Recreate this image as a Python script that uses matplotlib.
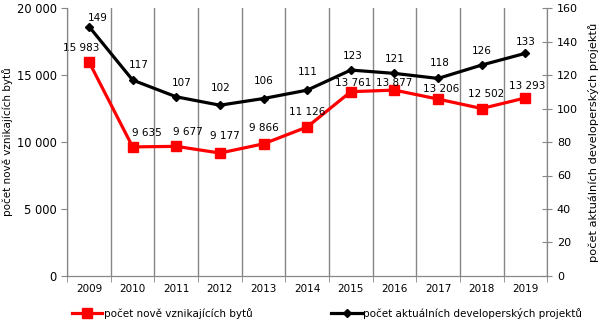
import matplotlib
matplotlib.use("Agg")
import matplotlib.pyplot as plt
import numpy as np

years = ["2009", "2010", "2011", "2012", "2013", "2014", "2015", "2016", "2017", "2018", "2019"]
byty = [15983, 9635, 9677, 9177, 9866, 11126, 13761, 13877, 13206, 12502, 13293]
projekty = [149, 117, 107, 102, 106, 111, 123, 121, 118, 126, 133]

plt.rcParams['font.family'] = ['DejaVu Sans']
plt.rcParams['font.size'] = 7.5

def fmt(v):
    return f"{v:,}".replace(",", " ")

fig = plt.figure(figsize=(6, 3.25), dpi=100)
ax = fig.add_axes([0.112, 0.151, 0.8, 0.824])
ax2 = ax.twinx()

x = np.arange(len(years))
gray = '#868686'

l1, = ax.plot(x, byty, color='#ff0000', lw=2.3, marker='s', ms=7,
              label='počet nově vznikajících bytů', zorder=3)
l2, = ax2.plot(x, projekty, color='black', lw=2.3, marker='D', ms=4.5,
               label='počet aktuálních developerských projektů', zorder=3)

# data label offsets in pixels (dx, label centre above the point)
red_dx = [-8, 14, 12, 5, 0, 0, 2, 0, 3, 4, 2]
red_dy = [14, 14, 14, 17, 16, 15, 9, 7, 10, 15, 12]
for i, v in enumerate(byty):
    ax.annotate(fmt(v), (x[i], v), xytext=(red_dx[i] * 0.72, red_dy[i] * 0.72),
                textcoords='offset points', ha='center', va='center', fontsize=7.5)
blk_dx = [9, 6, 5, 1, 0, 1, 2, 0, 2, 0, 0]
blk_dy = [9, 15, 14, 17, 18, 18, 14, 14, 15, 14, 11]
for i, v in enumerate(projekty):
    ax2.annotate(str(v), (x[i], v), xytext=(blk_dx[i] * 0.72, blk_dy[i] * 0.72),
                 textcoords='offset points', ha='center', va='center', fontsize=7.5)

ax.set_xlim(-0.5, len(years) - 0.5)
ax.set_ylim(0, 20000)
ax2.set_ylim(0, 160)
ax.set_yticks(range(0, 20001, 5000))
ax.set_yticklabels([fmt(v) for v in range(0, 20001, 5000)], fontsize=8.3)
ax2.set_yticks(range(0, 161, 20))
ax2.set_yticklabels([str(v) for v in range(0, 161, 20)], fontsize=8)

ax.set_xticks(x)
ax.set_xticklabels(years)
ax.tick_params(axis='x', which='major', length=0, pad=6)
ax.set_xticks(np.arange(-0.5, len(years)), minor=True)
ax.tick_params(axis='x', which='minor', length=4, color=gray, direction='out')
ax.grid(axis='x', which='minor', color=gray, lw=1)
ax.tick_params(axis='y', length=4, color=gray, direction='out')
ax2.tick_params(axis='y', length=7, color=gray, direction='inout')

for a in (ax, ax2):
    a.spines['top'].set_visible(False)
    for s in ('left', 'right', 'bottom'):
        a.spines[s].set_color(gray)
ax.set_axisbelow(True)

ax.set_ylabel('počet nově vznikajících bytů')
ax.yaxis.set_label_coords(-0.112, 0.5)
ax2.set_ylabel('počet aktuálních developerských projektů', fontsize=8.2)
ax2.yaxis.set_label_coords(1.085, 0.5)

fig.legend(handles=[l1, l2], loc='lower center', bbox_to_anchor=(0.545, -0.01),
           ncol=2, frameon=False, handlelength=2.9, handletextpad=0.15,
           columnspacing=7.6, fontsize=7.5)

fig.savefig('out.png', dpi=100)
